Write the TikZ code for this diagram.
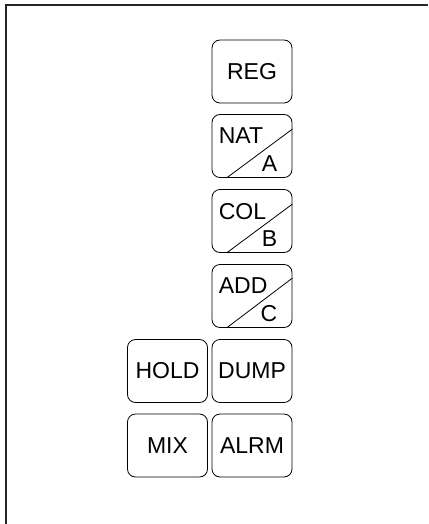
\documentclass[tikz,border=0pt]{standalone}
\usepackage{fontspec}
\setmainfont{Liberation Sans}
\usetikzlibrary{calc}
\tikzset{
  btn/.style={draw=black, line width=0.8pt, rounded corners=8pt,
    minimum width=80pt, minimum height=63pt, inner sep=0pt,
    font=\fontsize{23}{27}\selectfont},
  tl/.style={anchor=north west, inner sep=0pt, font=\fontsize{23}{27}\selectfont},
  br/.style={anchor=south east, inner sep=0pt, font=\fontsize{23}{27}\selectfont},
  diag/.style={draw=black, line width=0.8pt},
  frame/.style={draw=black!85, line width=2pt}
}
\begin{document}
\begin{tikzpicture}[x=1pt,y=-1pt]
\useasboundingbox (0,0) rectangle (428,524);
\coordinate (f1) at (5.5,524);
\coordinate (f2) at (5.5,5.5);
\coordinate (f3) at (428,5.5);
\draw[frame] (f1) -- (f2) -- (f3);

\node[btn] (reg) at (252,71.5) {REG};

\node[btn] (nat) at (252,146) {};
\node[tl] (natT) at ($(nat.north west)+(7,13)$) {NAT};
\node[br] (natB) at ($(nat.south east)+(-15,-6)$) {A};
\draw[diag] ($(nat.south west)+(15,0)$) -- ($(nat.north east)+(0,15)$);

\node[btn] (col) at (252,221) {};
\node[tl] (colT) at ($(col.north west)+(7,14)$) {COL};
\node[br] (colB) at ($(col.south east)+(-15,-6)$) {B};
\draw[diag] ($(col.south west)+(15,0)$) -- ($(col.north east)+(0,15)$);

\node[btn] (add) at (252,296) {};
\node[tl] (addT) at ($(add.north west)+(7,13)$) {ADD};
\node[br] (addB) at ($(add.south east)+(-15,-6)$) {C};
\draw[diag] ($(add.south west)+(15,0)$) -- ($(add.north east)+(0,14)$);

\node[btn] (hold) at (167.5,371) {HOLD};
\node[btn] (dump) at (252,371) {DUMP};
\node[btn] (mix) at (167.5,445.5) {MIX};
\node[btn] (alrm) at (252,445.5) {ALRM};
\end{tikzpicture}
\end{document}
